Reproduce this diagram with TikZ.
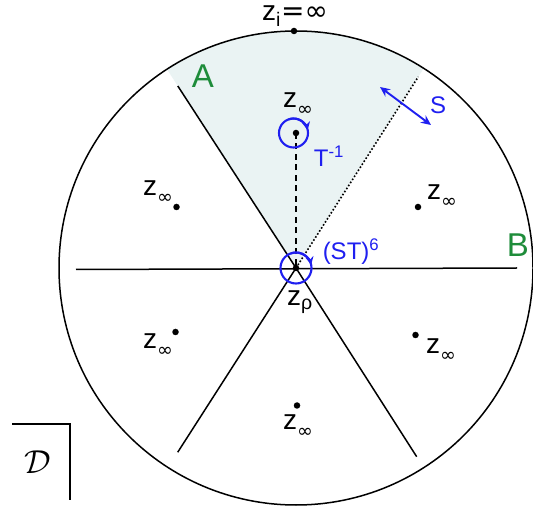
\documentclass[tikz,border=0pt]{standalone}
\usepackage{fontspec}
\setmainfont{Liberation Sans}
\newfontfamily\djv{DejaVu Sans}
\usetikzlibrary{arrows.meta}
\definecolor{shadec}{HTML}{EAF3F3}
\definecolor{bluec}{HTML}{1F1FF0}
\definecolor{greenc}{HTML}{1E8C3A}
\tikzset{
  lbl/.style={inner sep=0pt, font=\fontsize{28}{28}\selectfont},
  blbl/.style={inner sep=0pt, text=bluec, font=\fontsize{24}{24}\selectfont},
  glbl/.style={inner sep=0pt, text=greenc, font=\fontsize{33}{33}\selectfont},
  pt/.style={circle, fill=black, inner sep=0pt, minimum size=6.5pt},
  edge/.style={line width=1.5pt, black},
  bcirc/.style={line width=2.1pt, bluec},
}
\newcommand{\zinf}{z\raisebox{-0.28em}{\fontsize{19}{19}\selectfont\djv ∞}}
\begin{document}
\begin{tikzpicture}[x=1pt,y=-1pt]
\useasboundingbox (0,0) rectangle (533,510);
\begin{scope}[shift={(296,268)}, yscale=-1]
  \coordinate (O) at (0,0);
  \fill[shadec] (O) -- (57.4:237) arc[start angle=57.4, end angle=123, radius=237] -- cycle;
  \draw[edge] (O) circle[radius=237];
  \coordinate (eA) at (123:217);
  \coordinate (eLL) at (237.3:219);
  \coordinate (eLR) at (302.6:224);
  \coordinate (eL) at (-220,-1.5);
  \coordinate (eR) at (221,0);
  \coordinate (eD) at (57.4:227);
  \draw[edge] (O) -- (eA);
  \draw[edge] (O) -- (eLL);
  \draw[edge] (O) -- (eLR);
  \draw[edge] (eL) -- (eR);
  \draw[line width=1.6pt, dotted] (O) -- (eD);
\end{scope}
% points
\node[pt] (zrho) at (296,268) {};
\node[pt] (ztop) at (296,133) {};
\node[pt] (zi) at (294,31) {};
\node[pt] (zlu) at (176.5,207) {};
\node[pt] (zru) at (418,207) {};
\node[pt] (zll) at (175.5,332) {};
\node[pt] (zrl) at (415.5,335) {};
\node[pt] (zbot) at (297,405.5) {};
\draw[line width=1.5pt, dash pattern=on 6pt off 4.5pt] (zrho) -- (ztop);
% blue circles
\draw[bcirc] (293.5,133) circle[radius=14.5];
\draw[bcirc, -{Stealth[length=8pt,width=8pt]}] (293.5,133) ++(-110:14.5) arc[start angle=-110, end angle=-12, radius=14.5];
\draw[bcirc] (296,268) circle[radius=15.5];
\draw[bcirc, -{Stealth[length=8pt,width=8pt]}] (296,268) ++(-110:15.5) arc[start angle=-110, end angle=-12, radius=15.5];
% S arrow
\coordinate (s1) at (380,87);
\coordinate (s2) at (431,125);
\draw[line width=1.9pt, bluec, {Stealth[length=10pt,width=9pt]}-{Stealth[length=10pt,width=9pt]}] (s1) -- (s2);
% labels
\node[lbl, anchor=base] (li) at (295,21) {z\textsubscript{i}{\djv =∞}};
\node[lbl] (ltop) at (298,104) {\zinf};
\node[lbl] (llu) at (158,192) {\zinf};
\node[lbl] (lru) at (442,196) {\zinf};
\node[lbl] (lll) at (158,345) {\zinf};
\node[lbl] (lrl) at (441,350) {\zinf};
\node[lbl] (lbot) at (298,426) {\zinf};
\node[lbl] (lrho) at (300,302) {z\textsubscript{ρ}};
\node[blbl] (lT) at (329,156) {T\textsuperscript{-1}};
\node[blbl] (lST) at (351,252) {(ST)\textsuperscript{6}};
\node[blbl] (lS) at (438,105) {S};
\node[glbl] (lA) at (203,76) {A};
\node[glbl] (lB) at (518,245) {B};
% D box
\coordinate (d1) at (12,424);
\coordinate (d2) at (70,424);
\coordinate (d3) at (70,500);
\draw[line width=1.5pt] (d1) -- (d2) -- (d3);
\node[inner sep=0pt, scale=1.6, font=\fontsize{20}{20}\selectfont] (lD) at (38,462) {$\mathcal{D}$};
\end{tikzpicture}
\end{document}
